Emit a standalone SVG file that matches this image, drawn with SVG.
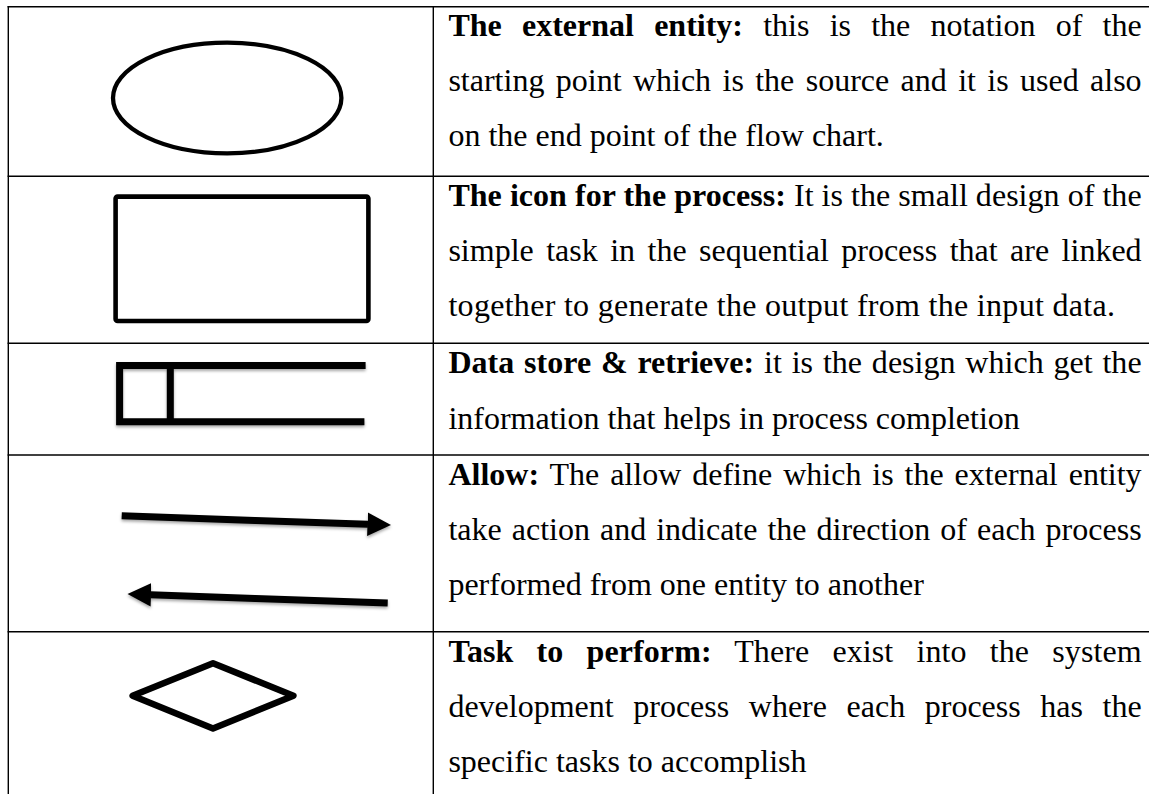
<svg xmlns="http://www.w3.org/2000/svg" width="1149" height="794" viewBox="0 0 1149 794">
  <defs>
    <style>
      .grid{stroke:#000;stroke-width:1.4;fill:none}
      .outline{fill:none;stroke:#000;stroke-width:4}
      .heavy{fill:none;stroke:#000;stroke-width:7;stroke-linejoin:miter;stroke-linecap:butt}
      .txt{font-family:"Liberation Serif","Times New Roman",serif;font-size:32px;fill:#000}
      .b{font-weight:bold}
    </style>
    <filter id="soft-shadow" filterUnits="userSpaceOnUse" x="0" y="0" width="1149" height="794">
      <feDropShadow dx="0" dy="2" stdDeviation="1.4" flood-color="#000" flood-opacity="0.35"/>
    </filter>
    <marker id="head" markerUnits="userSpaceOnUse" viewBox="0 0 24 24" markerWidth="24" markerHeight="24" refX="0.5" refY="12" orient="auto">
      <path d="M0,0.3 L23.5,12 L0,23.7 Z" fill="#000"/>
    </marker>
  </defs>

  <rect width="1149" height="794" fill="#fff"/>

  <!-- table rules: no right edge or bottom edge inside the frame -->
  <g id="table-grid" class="grid">
    <line x1="7.6" y1="6.7" x2="1149" y2="6.7"/>
    <line x1="7.6" y1="176.3" x2="1149" y2="176.3"/>
    <line x1="7.6" y1="343.3" x2="1149" y2="343.3"/>
    <line x1="7.6" y1="455" x2="1149" y2="455"/>
    <line x1="7.6" y1="631.7" x2="1149" y2="631.7"/>
    <line x1="8.3" y1="6" x2="8.3" y2="794"/>
    <line x1="433.3" y1="6" x2="433.3" y2="794"/>
  </g>

  <!-- row 1: external entity -->
  <g id="row-external-entity">
    <ellipse class="outline" style="stroke-width:4.3" cx="227.2" cy="98" rx="114.2" ry="55.3"/>
    <text class="txt" x="448.4" y="35.8" style="word-spacing:12.21px" textLength="693.2" lengthAdjust="spacing"><tspan class="b">The external entity:</tspan> this is the notation of the</text>
    <text class="txt" x="448.4" y="91" style="word-spacing:3.37px" textLength="693.2" lengthAdjust="spacing">starting point which is the source and it is used also</text>
    <text class="txt" x="448.4" y="146.2">on the end point of the flow chart.</text>
  </g>

  <!-- row 2: process -->
  <g id="row-process">
    <rect class="outline" style="stroke-width:4.6" x="115.6" y="196.6" width="252.8" height="124.4" rx="2"/>
    <text class="txt" x="448.4" y="205.5" textLength="693.2" lengthAdjust="spacing"><tspan class="b">The icon for the process:</tspan> It is the small design of the</text>
    <text class="txt" x="448.4" y="260.7" style="word-spacing:4.44px" textLength="693.2" lengthAdjust="spacing">simple task in the sequential process that are linked</text>
    <text class="txt" x="448.4" y="315.9" textLength="666.5" lengthAdjust="spacing">together to generate the output from the input data.</text>
  </g>

  <!-- row 3: data store -->
  <g id="row-data-store">
    <path class="heavy" filter="url(#soft-shadow)" d="M365.6,365.4 H119.6 V421.8 H364.4 M170.3,365.4 V421.8"/>
    <text class="txt" x="448.4" y="373.3" style="word-spacing:1.78px" textLength="693.2" lengthAdjust="spacing"><tspan class="b">Data store &amp; retrieve:</tspan> it is the design which get the</text>
    <text class="txt" x="448.4" y="428.5">information that helps in process completion</text>
  </g>

  <!-- row 4: data flow -->
  <g id="row-flow">
    <g id="connectors" class="heavy" filter="url(#soft-shadow)">
      <line x1="121.7" y1="515.8" x2="368" y2="524.3" marker-end="url(#head)"/>
      <line x1="387.7" y1="603" x2="150.5" y2="594.8" marker-end="url(#head)"/>
    </g>
    <text class="txt" x="448.4" y="485" style="word-spacing:2.89px" textLength="693.2" lengthAdjust="spacing"><tspan class="b">Allow:</tspan> The allow define which is the external entity</text>
    <text class="txt" x="448.4" y="540.2" style="word-spacing:2.0px" textLength="693.2" lengthAdjust="spacing">take action and indicate the direction of each process</text>
    <text class="txt" x="448.4" y="595.4">performed from one entity to another</text>
  </g>

  <!-- row 5: task -->
  <g id="row-task">
    <path class="outline" style="stroke-width:6.5;stroke-linejoin:round" d="M213,663.3 L293.4,695.7 L213,728.4 L132.6,695.7 Z"/>
    <text class="txt" x="448.4" y="661.5" style="word-spacing:15.1px" textLength="693.2" lengthAdjust="spacing"><tspan class="b">Task to perform:</tspan> There exist into the system</text>
    <text class="txt" x="448.4" y="716.7" style="word-spacing:11.57px" textLength="693.2" lengthAdjust="spacing">development process where each process has the</text>
    <text class="txt" x="448.4" y="771.9">specific tasks to accomplish</text>
  </g>
</svg>
